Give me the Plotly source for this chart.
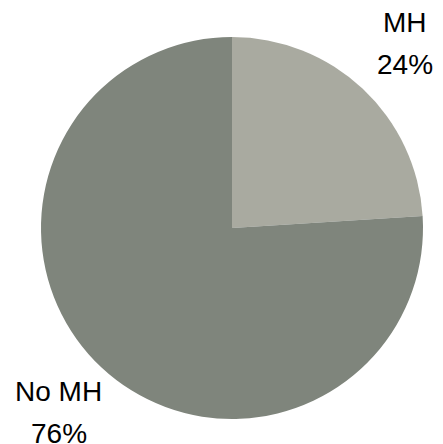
import math
import plotly.graph_objects as go

labels = ["MH", "No MH"]
values = [24, 76]
colors = ["#a9aaa0", "#7f857c"]

W, H = 443, 444
# page body has an 8px margin, so figure coords = screen coords - 8
cx, cy, R = 224, 220, 191

fig = go.Figure(go.Pie(
    labels=labels,
    values=values,
    sort=False,
    direction="clockwise",
    rotation=0,
    marker=dict(colors=colors, line=dict(width=0)),
    textinfo="none",
    hoverinfo="label+percent",
    showlegend=False,
    domain=dict(x=[(cx - R) / W, (cx + R) / W], y=[1 - (cy + R) / H, 1 - (cy - R) / H]),
))

total = sum(values)
cum = 0
annotations = []
for lab, v in zip(labels, values):
    mid = (cum + v / 2) / total * 2 * math.pi
    cum += v
    lr = R * 1.325
    px = cx + lr * math.sin(mid)
    py = cy - lr * math.cos(mid)
    pct = f"{round(v / total * 100)}%"
    for txt, off in ((lab, -21), (pct, 21)):
        annotations.append(dict(
            x=px / W, y=1 - (py + off) / H, xref="paper", yref="paper",
            text=txt, showarrow=False, xanchor="center", yanchor="middle",
            font=dict(family="Liberation Sans, Arial, sans-serif", size=28, color="#000000"),
        ))

fig.update_layout(
    width=W, height=H,
    margin=dict(l=0, r=0, t=0, b=0),
    paper_bgcolor="white", plot_bgcolor="white",
    annotations=annotations,
)

fig.write_html("out.html")
